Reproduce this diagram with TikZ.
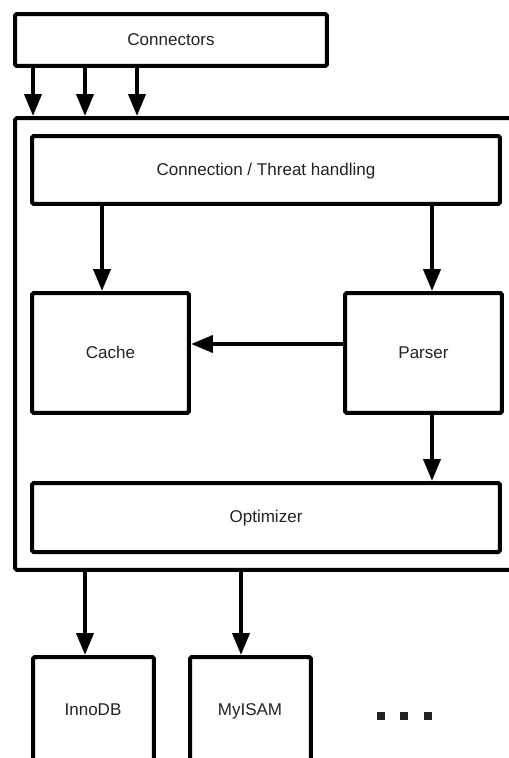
\documentclass[tikz,border=0pt]{standalone}
\usepackage{fontspec}
\setmainfont{Liberation Sans}
\usetikzlibrary{arrows.meta}
\definecolor{txtgrey}{HTML}{222222}
\tikzset{
  blk/.style={draw, line width=0.08cm, rounded corners=1pt, inner sep=0pt,
    text=txtgrey, text height=1.6ex, text depth=0.45ex, font=\fontsize{9.7}{12}\selectfont},
  lbl/.style={text=txtgrey, text height=1.6ex, text depth=0.45ex, font=\fontsize{9.7}{12}\selectfont},
  flow/.style={line width=0.08cm, -{Triangle[length=0.44cm,width=0.34cm]}}
}
\begin{document}
\begin{tikzpicture}[x=0.02cm,y=-0.02cm]
    \useasboundingbox (0,0) rectangle (509,758);
    \clip (0,0) rectangle (509,758);
    %% connectors on top
    \node[blk, minimum width=6.24cm, minimum height=1.04cm] (con) at (171,40) {Connectors};
    %% server, open on the right
    \node[blk, minimum width=10.9cm, minimum height=9.04cm] (srv) at (287.5,344) {};
    \node[blk, minimum width=9.36cm, minimum height=1.36cm] (conn) at (266,170) {Connection / Threat handling};
    \node[blk, minimum width=3.14cm, minimum height=2.4cm] (cache) at (110.5,353) {Cache};
    \node[blk, minimum width=3.14cm, minimum height=2.4cm] (pars) at (423.5,353) {Parser};
    \node[blk, minimum width=9.36cm, minimum height=1.38cm] (opt) at (266,517.5) {Optimizer};
    %% storage engines, cut at the bottom
    \node[blk, minimum width=2.42cm, minimum height=3.06cm] (inno) at (93.5,733.5) {};
    \node[blk, minimum width=2.42cm, minimum height=3.06cm] (myisam) at (250.5,733.5) {};
    \node[lbl] (innotxt) at (93,710) {InnoDB};
    \node[lbl] (myisamtxt) at (250,710) {MyISAM};
    %% arrows
    \foreach \x in {33,85,137}
        \draw[flow] (con.south -| \x,0) -- (srv.north -| \x,0);
    \draw[flow] (conn.south -| 102,0) -- (cache.north -| 102,0);
    \draw[flow] (conn.south -| 432,0) -- (pars.north -| 432,0);
    \draw[flow] (pars.west |- 0,344) -- (cache.east |- 0,344);
    \draw[flow] (pars.south -| 432,0) -- (opt.north -| 432,0);
    \draw[flow] (srv.south -| 85,0) -- (inno.north -| 85,0);
    \draw[flow] (srv.south -| 241,0) -- (myisam.north -| 241,0);
    %% more engines
    \foreach \x in {381,404,428}
        \fill[txtgrey] (\x-4,712) rectangle (\x+4,720);
\end{tikzpicture}
\end{document}
